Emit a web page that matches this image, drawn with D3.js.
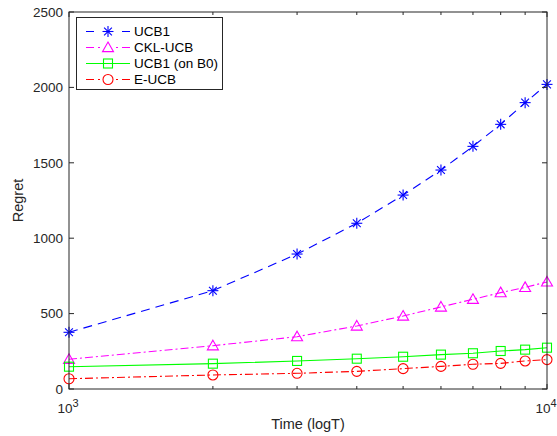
<!DOCTYPE html>
<html><head><meta charset="utf-8">
<script src="https://cdn.jsdelivr.net/npm/d3@7"></script>
<style>body{margin:0;background:#fff;} svg{display:block;font-family:"Liberation Sans",Arial,sans-serif;}</style>
</head><body>
<svg id="c" width="557" height="436"></svg>
<script>
const times = [1000,2000,3000,4000,5000,6000,7000,8000,9000,10000];
const ucb1 = [376,652,895,1099,1286,1452,1609,1755,1899,2020];
const cklUcb = [197,287,347,418,484,544,595,639,674,710];
const ucb1B0 = [148,168,186,201,214,228,237,252,261,274];
const eUcb = [68,93,104,117,135,150,164,170,186,195];
const seriesNames = ["UCB1","CKL-UCB","UCB1 (on B0)","E-UCB"];
const yTicks = [0,500,1000,1500,2000,2500];
const xMajor = [1000,10000];
const xMinor = [2000,3000,4000,5000,6000,7000,8000,9000];
const xLabel = "Time (logT)", yLabel = "Regret";

const series = [
  {name:seriesNames[0], vals:ucb1, color:"#0000ff", dash:"9,6", legDash:"8,28,8", marker:"star"},
  {name:seriesNames[1], vals:cklUcb, color:"#ff00ff", dash:"8,3,2,3", legDash:"8,4,2,16,2,4,8", marker:"tri"},
  {name:seriesNames[2], vals:ucb1B0, color:"#00ff00", dash:null, legDash:null, marker:"sq"},
  {name:seriesNames[3], vals:eUcb, color:"#ff0000", dash:"8,3,2,3", legDash:"8,4,2,16,2,4,8", marker:"circ"}
];

const L=69,R=547,T=12,B=389;
const svg = d3.select("#c");
const x = d3.scaleLog().domain([1000,10000]).range([L,R]);
const y = d3.scaleLinear().domain([0,2500]).range([B,T]);
const axisCol = "#262626";

const line = d3.line().x((d,i)=>x(times[i])).y(d=>y(d));
function drawMarker(g, type, cx, cy, color){
  if(type==="star"){
    const r=5.5, q=3.9;
    const p=[[0,-r,0,r],[-r,0,r,0],[-q,-q,q,q],[-q,q,q,-q]];
    p.forEach(a=>g.append("line").attr("x1",cx+a[0]).attr("y1",cy+a[1]).attr("x2",cx+a[2]).attr("y2",cy+a[3]).attr("stroke",color).attr("stroke-width",1.1));
  } else if(type==="tri"){
    const r=5.5;
    g.append("path").attr("d",`M${cx},${cy-r}L${cx+r},${cy+r*0.75}L${cx-r},${cy+r*0.75}Z`).attr("fill","none").attr("stroke",color).attr("stroke-width",1.1);
  } else if(type==="sq"){
    const r=4.5;
    g.append("rect").attr("x",cx-r).attr("y",cy-r).attr("width",2*r).attr("height",2*r).attr("fill","none").attr("stroke",color).attr("stroke-width",1.1);
  } else {
    g.append("circle").attr("cx",cx).attr("cy",cy).attr("r",5).attr("fill","none").attr("stroke",color).attr("stroke-width",1.1);
  }
}
const gS = svg.append("g");
series.forEach(s=>{
  gS.append("path").datum(s.vals).attr("d",line).attr("fill","none").attr("stroke",s.color).attr("stroke-width",1.1)
    .attr("stroke-dasharray",s.dash);
  s.vals.forEach((v,i)=>drawMarker(gS,s.marker,x(times[i]),y(v),s.color));
});

const gA = svg.append("g").attr("stroke",axisCol);
gA.append("rect").attr("x",L).attr("y",T).attr("width",R-L).attr("height",B-T).attr("fill","none").attr("stroke-width",1);
yTicks.forEach(t=>{
  gA.append("line").attr("x1",L).attr("x2",L+5).attr("y1",y(t)).attr("y2",y(t));
  gA.append("line").attr("x1",R).attr("x2",R-5).attr("y1",y(t)).attr("y2",y(t));
});
xMajor.concat(xMinor).forEach(t=>{
  const len = xMajor.includes(t)?5:3;
  gA.append("line").attr("x1",x(t)).attr("x2",x(t)).attr("y1",B).attr("y2",B-len);
  gA.append("line").attr("x1",x(t)).attr("x2",x(t)).attr("y1",T).attr("y2",T+len);
});

const gT = svg.append("g").attr("fill",axisCol).style("font-size","13.5px");
yTicks.forEach(t=>{
  gT.append("text").attr("x",L-6).attr("y",y(t)).attr("dy","0.35em").attr("text-anchor","end").text(t);
});
xMajor.forEach(t=>{
  const tx = gT.append("text").attr("x",x(t)-1).attr("y",B+24).attr("text-anchor","middle");
  tx.append("tspan").text("10");
  tx.append("tspan").attr("dy","-6").style("font-size","11px").text(Math.round(Math.log10(t)));
});
svg.append("text").attr("x",(L+R)/2).attr("y",B+40).attr("text-anchor","middle").attr("fill",axisCol).style("font-size","14.5px").text(xLabel);
svg.append("text").attr("transform",`translate(23,${(T+B)/2}) rotate(-90)`).attr("text-anchor","middle").attr("fill",axisCol).style("font-size","14.5px").text(yLabel);

const lg = svg.append("g");
lg.append("rect").attr("x",76.5).attr("y",17.5).attr("width",146).attr("height",72).attr("fill","#fff").attr("stroke",axisCol).attr("stroke-width",1);
series.forEach((s,i)=>{
  const ly = 31.5 + i*16;
  lg.append("line").attr("x1",86).attr("x2",130).attr("y1",ly).attr("y2",ly).attr("stroke",s.color).attr("stroke-width",1.1).attr("stroke-dasharray",s.legDash);
  drawMarker(lg,s.marker,108,ly,s.color);
  lg.append("text").attr("x",134).attr("y",ly).attr("dy","0.35em").attr("fill","#000").style("font-size","13.5px").text(s.name);
});
</script>
</body></html>
